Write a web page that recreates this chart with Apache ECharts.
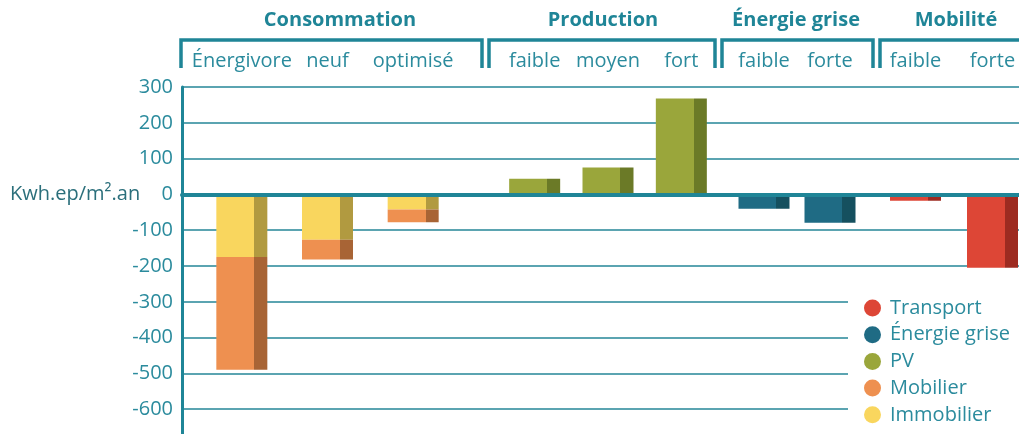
<!DOCTYPE html>
<html>
<head>
<meta charset="utf-8">
<script src="https://cdn.jsdelivr.net/npm/echarts@6/dist/echarts.min.js"></script>
<style>
  html, body { margin: 0; padding: 0; background: #fff; }
  #chart { width: 1019px; height: 434px; }
</style>
</head>
<body>
<div id="chart"></div>
<script>
// data
const groups = ['Consommation', 'Production', 'Énergie grise', 'Mobilité'];
const consCats = ['Énergivore', 'neuf', 'optimisé'];
const prodCats = ['faible', 'moyen', 'fort'];
const griseCats = ['faible', 'forte'];
const mobCats = ['faible', 'forte'];

const immobilier = [-175, -127, -42];
const mobilier = [-315, -55, -36];
const pv = [44, 75, 268];
const energieGrise = [-40, -79];
const transport = [-18, -205];

const yMin = -700, yMax = 300, yStep = 100;
const unitLabel = 'Kwh.ep/m².an';

// styles / layout
const FONT = '"Open Sans", "Noto Sans", sans-serif';
const TEAL = '#1f8597';
const TEXT = '#2b8b9d';
const colors = {
  'Transport':     ['#dd4636', '#9d2b21'],
  'Énergie grise': ['#1f6b84', '#15505f'],
  'PV':            ['#9aa63b', '#6b7a27'],
  'Mobilier':      ['#ee9050', '#a86435'],
  'Immobilier':    ['#f9d65e', '#b19a40']
};
const legendOrder = ['Transport', 'Énergie grise', 'PV', 'Mobilier', 'Immobilier'];

// fill with a hard edge = front face + darker side face
function faceColor(name) {
  const c = colors[name];
  return new echarts.graphic.LinearGradient(0, 0, 1, 0, [
    { offset: 0, color: c[0] }, { offset: 0.745, color: c[0] },
    { offset: 0.745, color: c[1] }, { offset: 1, color: c[1] }
  ]);
}

const TOP = 87, HEIGHT = 358;
// one grid per group so the bars sit where they do in the picture
const groupGrids = [
  { left: 199, width: 257, cats: consCats },
  { left: 498, width: 220, cats: prodCats },
  { left: 731, width: 132, cats: griseCats },
  { left: 877, width: 154, cats: mobCats }
];
// header brackets and title centres
const headers = [
  { x1: 181, x2: 482, cx: 340 },
  { x1: 489, x2: 715, cx: 603 },
  { x1: 722, x2: 873, cx: 796 },
  { x1: 880, x2: 1030, cx: 956 }
];

const chart = echarts.init(document.getElementById('chart'));

const grid = [{ left: 182, width: 837, top: TOP, height: HEIGHT, outerBoundsMode: 'none' }];
const xAxis = [{
  type: 'value', gridIndex: 0, min: 0, max: 1, z: 10,
  axisLine: { onZero: true, lineStyle: { color: TEAL, width: 4 } },
  axisTick: { show: false }, axisLabel: { show: false }, splitLine: { show: false }
}];
const yAxis = [{
  type: 'value', gridIndex: 0, min: yMin, max: yMax, interval: yStep,
  axisLine: { show: true, lineStyle: { color: TEAL, width: 3 } },
  axisTick: { show: false },
  axisLabel: { color: TEXT, fontSize: 20, fontFamily: FONT, margin: 9, showMinLabel: false },
  splitLine: { lineStyle: { color: '#5ba4b1', width: 2 } }
}];

groupGrids.forEach((g, i) => {
  grid.push({ left: g.left, width: g.width, top: TOP, height: HEIGHT, outerBoundsMode: 'none' });
  xAxis.push({
    type: 'category', gridIndex: i + 1, position: 'top', data: g.cats,
    axisLine: { show: false }, axisTick: { show: false },
    axisLabel: { color: TEXT, fontSize: 20, fontFamily: FONT, margin: 16, interval: 0 }
  });
  yAxis.push({ type: 'value', gridIndex: i + 1, min: yMin, max: yMax, interval: yStep, show: false });
});

function barSeries(name, data, idx, stack) {
  return {
    name: name, type: 'bar', data: data, stack: stack,
    xAxisIndex: idx, yAxisIndex: idx, barWidth: 51,
    itemStyle: { color: faceColor(name) }
  };
}

const series = [
  { type: 'line', data: [], xAxisIndex: 0, yAxisIndex: 0 },
  barSeries('Immobilier', immobilier, 1, 'cons'),
  barSeries('Mobilier', mobilier, 1, 'cons'),
  barSeries('PV', pv, 2),
  barSeries('Énergie grise', energieGrise, 3),
  barSeries('Transport', transport, 4)
];

const graphic = [];
headers.forEach((h, i) => {
  graphic.push({
    type: 'polyline',
    shape: { points: [[h.x1, 68], [h.x1, 40], [h.x2, 40], [h.x2, 68]] },
    style: { stroke: TEAL, lineWidth: 3.5, fill: null }
  });
  graphic.push({
    type: 'text', x: h.cx, y: 20,
    style: {
      text: groups[i], fill: TEAL, font: 'bold 20px ' + FONT,
      textAlign: 'center', textVerticalAlign: 'middle'
    }
  });
});

chart.setOption({
  animation: false,
  grid: grid, xAxis: xAxis, yAxis: yAxis, series: series,
  legend: {
    orient: 'vertical', left: 848, top: 294, height: 140, padding: [4, 40, 0, 16],
    backgroundColor: '#fff',
    icon: 'circle', itemWidth: 17, itemHeight: 17, itemGap: 6.7,
    textStyle: { color: TEXT, fontSize: 20, fontFamily: FONT, padding: [0, 0, 0, 4] },
    data: legendOrder.map(n => ({ name: n, itemStyle: { color: colors[n][0] } }))
  },
  graphic: graphic
});

// unit label sits on the zero line
const zeroY = chart.convertToPixel({ yAxisIndex: 0 }, 0);
graphic.push({
  type: 'text', x: 10, y: zeroY,
  style: { text: unitLabel, fill: '#2b6f7b', font: '20px ' + FONT, textVerticalAlign: 'middle' }
});
chart.setOption({ graphic: graphic });
</script>
</body>
</html>
